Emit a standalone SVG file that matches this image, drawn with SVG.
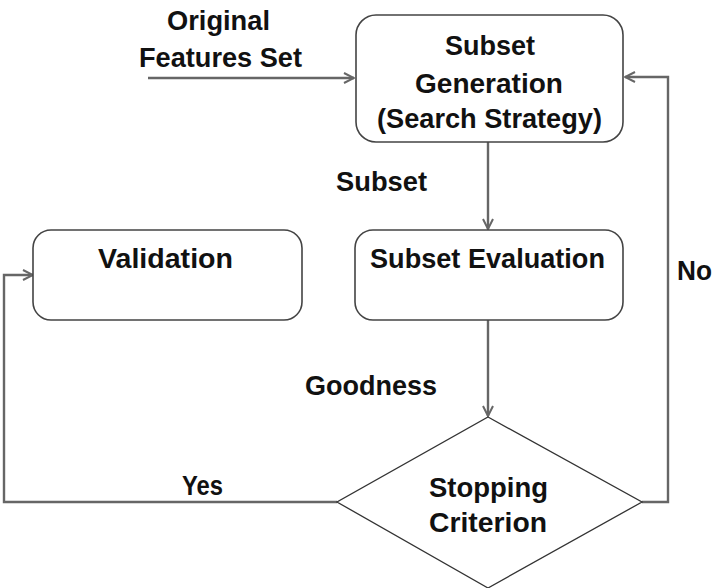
<svg xmlns="http://www.w3.org/2000/svg" width="724" height="588" viewBox="0 0 724 588">
<defs>
<style>
.t{font-family:"Liberation Sans",Arial,sans-serif;font-weight:bold;font-size:27.5px;fill:#111;}
.box{fill:#fff;stroke:#444;stroke-width:1.6;}
.dia{fill:#fff;stroke:#333;stroke-width:1.3;}
.ln{fill:none;stroke:#666;stroke-width:2.4;}
</style>
<marker id="arr" viewBox="0 0 12 12" refX="11" refY="6" markerWidth="12" markerHeight="12" markerUnits="userSpaceOnUse" orient="auto">
<path d="M1,1 L11,6 L1,11" fill="none" stroke="#666" stroke-width="2"/>
</marker>
</defs>
<rect width="724" height="588" fill="#fff"/>
<g id="connectors">
<path class="ln" d="M148,78 L354,78" marker-end="url(#arr)"/>
<path class="ln" d="M488,142 L488,229" marker-end="url(#arr)"/>
<path class="ln" d="M488,320 L488,416" marker-end="url(#arr)"/>
<path class="ln" d="M337,502 L4,502 L4,275 L33,275" marker-end="url(#arr)"/>
<path class="ln" d="M642,502 L668,502 L668,77 L625,77" marker-end="url(#arr)"/>
</g>
<g id="labels">
<text class="t" x="167" y="30" textLength="103" lengthAdjust="spacingAndGlyphs">Original</text>
<text class="t" x="139" y="67" textLength="163" lengthAdjust="spacingAndGlyphs">Features Set</text>
<text class="t" x="336" y="191" textLength="91" lengthAdjust="spacingAndGlyphs">Subset</text>
<text class="t" x="305" y="395" textLength="132" lengthAdjust="spacingAndGlyphs">Goodness</text>
<text class="t" x="182" y="495" textLength="41" lengthAdjust="spacingAndGlyphs">Yes</text>
<text class="t" x="677" y="280" textLength="35" lengthAdjust="spacingAndGlyphs">No</text>
</g>
<g id="subset-generation">
<rect class="box" x="356" y="15" width="267" height="127" rx="20"/>
<text class="t" x="445" y="55" textLength="90" lengthAdjust="spacingAndGlyphs">Subset</text>
<text class="t" x="415" y="93" textLength="148" lengthAdjust="spacingAndGlyphs">Generation</text>
<text class="t" x="377" y="128" textLength="225" lengthAdjust="spacingAndGlyphs">(Search Strategy)</text>
</g>
<g id="validation">
<rect class="box" x="33" y="230" width="269" height="90" rx="18"/>
<text class="t" x="98" y="268" textLength="135" lengthAdjust="spacingAndGlyphs">Validation</text>
</g>
<g id="subset-evaluation">
<rect class="box" x="355" y="230" width="268" height="90" rx="18"/>
<text class="t" x="370" y="268" textLength="235" lengthAdjust="spacingAndGlyphs">Subset Evaluation</text>
</g>
<g id="stopping-criterion">
<polygon class="dia" points="488,417 642,502 488,588 337,502"/>
<text class="t" x="429" y="497" textLength="119" lengthAdjust="spacingAndGlyphs">Stopping</text>
<text class="t" x="429" y="532" textLength="118" lengthAdjust="spacingAndGlyphs">Criterion</text>
</g>
</svg>
